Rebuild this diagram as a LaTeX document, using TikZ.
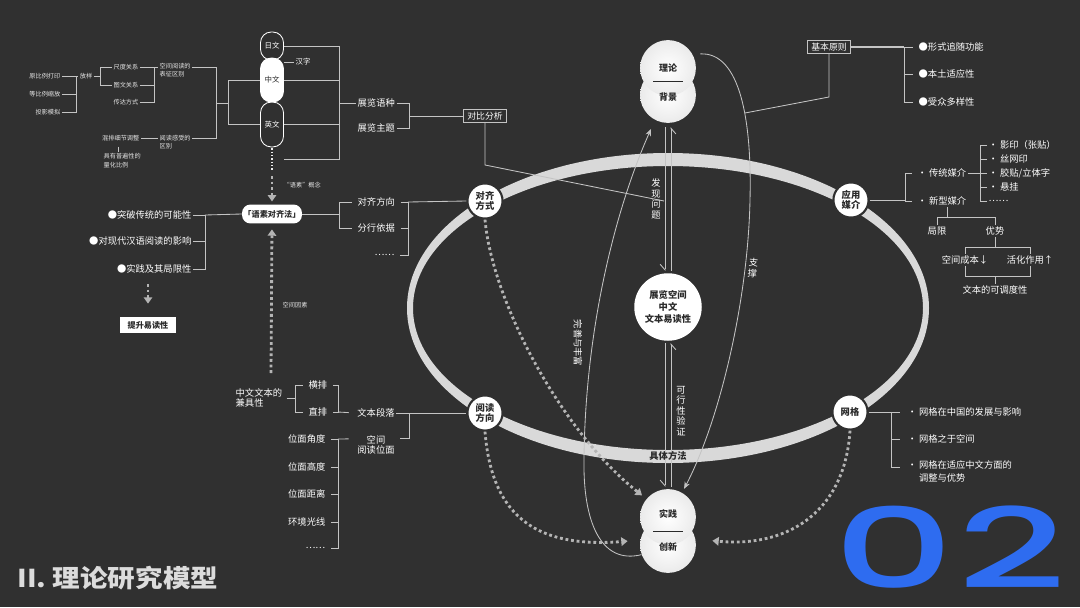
\documentclass[tikz,border=0pt]{standalone}
\usepackage{fontspec}
\setmainfont{Noto Sans CJK SC}
\newfontfamily\numfont{Poppins Medium}
\usepackage{tikz}
\usetikzlibrary{arrows.meta, positioning, calc}
\definecolor{bgGray}{HTML}{303030}
\definecolor{ringGray}{HTML}{D9D9D9}
\definecolor{lineGray}{HTML}{C4C4C4}
\definecolor{dotGray}{HTML}{B4B4B4}
\definecolor{numBlue}{HTML}{2E6CF0}
\definecolor{inkDark}{HTML}{2A2A2A}
\definecolor{titleGray}{HTML}{DCDCDC}
\newcommand{\labfont}{\fontsize{6.6}{7.4}\selectfont}
\newcommand{\minifont}{\fontsize{4.4}{5.8}\selectfont}

\begin{document}
\begin{tikzpicture}[x=0.025cm, y=-0.025cm,
    lbl/.style={text=white, font=\labfont, inner sep=1pt},
    tiny/.style={text=white!80!gray, font=\minifont, inner sep=1pt, align=left},
    ringnode/.style={circle, fill=white, draw=bgGray, line width=1.5pt, minimum size=25pt,
                     inner sep=0pt, align=center, text=inkDark, font=\labfont\bfseries},
    ball/.style={circle, minimum size=39.7pt, inner sep=0pt, inner color=white, outer color=white!84!gray},
    balltxt/.style={text=inkDark, font=\fontsize{6.4}{7}\selectfont\bfseries},
    pill/.style={draw=white, line width=0.6pt, rounded corners=7.5pt, minimum width=16.3pt,
                 inner sep=0pt, text=white, font=\fontsize{5.3}{6}\selectfont},
    tagbox/.style={lbl, draw=lineGray, line width=0.6pt, minimum width=31pt, minimum height=9.6pt,
                   inner sep=1pt, font=\fontsize{6.3}{7}\selectfont},
    ln/.style={draw=lineGray, line width=0.6pt},
    gap/.style={ln, shorten <=3pt, shorten >=3pt},
    dotarrow/.style={dotGray, line width=2pt, dash pattern=on 2pt off 2pt,
                     -{Triangle[length=4.5pt, width=6pt]}},
    fine dots/.style={white!85!gray, line width=1pt, dash pattern=on 1pt off 1.4pt},
    harp/.style={ln, -{Straight Barb[right, length=4pt, width=7pt]}},
    tip/.style={ln, -{Stealth[length=5pt, width=4pt]}}
]
    % background and ring
    \fill[bgGray] (0,0) rectangle (1080,607);
    \fill[ringGray, even odd rule] (668,308) ellipse [x radius=261, y radius=155]
                                   (668,308) ellipse [x radius=255, y radius=142];

    % core
    \node[circle, fill=white, minimum size=48pt, inner sep=0pt, align=center, text=inkDark,
          font=\fontsize{6.6}{8.6}\selectfont\bfseries] (hub) at (668,307) {展览空间\\中文\\文本易读性};
    \node[ball] (beijing) at (668,95) {};
    \node[ball] (lilun) at (668,68) {};
    \draw[inkDark, line width=0.6pt] ($(lilun)!.5!(beijing)+(-15,0)$) -- ++(30,0);
    \node[balltxt] at (lilun) {理论};
    \node[balltxt] at ($(beijing)+(0,2)$) {背景};
    \node[ball] (chuangxin) at (668,545) {};
    \node[ball] (shijian) at (668,517) {};
    \draw[inkDark, line width=0.6pt] ($(shijian)!.5!(chuangxin)+(-15,0)$) -- ++(30,0);
    \node[balltxt] at ($(shijian)+(0,-3)$) {实践};
    \node[balltxt] at ($(chuangxin)+(0,2)$) {创新};

    \node[ringnode] (duiqi)    at (485,201) {对齐\\方式};
    \node[ringnode] (yingyong) at (851,200) {应用\\媒介};
    \node[ringnode] (yuedu)    at (485,413) {阅读\\方向};
    \node[ringnode] (wangge)   at (850,412) {网格};

    % links through the core
    \draw[harp] ($(beijing.south)+(-3,4)$) -- ($(hub.north)+(-3,-2)$);
    \draw[harp] ($(hub.north)+(3,-2)$) -- ($(beijing.south)+(3,4)$);
    \draw[harp] ($(hub.south)+(-3,2)$) -- ($(shijian.north)+(-3,-2)$);
    \draw[harp] ($(shijian.north)+(3,-2)$) -- ($(hub.south)+(3,2)$);
    \node[lbl, align=center] (faxian) at (656,199) {发\\现\\问\\题};
    \node[lbl, align=center] (kexing) at (681,411) {可\\行\\性\\验\\证};
    \node[inkDark, font=\labfont\bfseries, inner sep=0pt] (juti) at (668,456) {具体方法};

    \coordinate (wsEnd) at (651,129);
    \draw[tip] (chuangxin.200) .. controls (600,565) and (583,520) .. (584,460)
               .. controls (585,330) and (615,210) .. (wsEnd);
    \node[lbl, rotate=-90] (wanshan) at (578,343) {完善与丰富};
    \draw[tip, shorten >=3pt] ($(lilun.30)+(8,0)$) .. controls (740,52) and (752,120) .. (750,200)
               .. controls (748,300) and (720,420) .. (shijian.60);
    \node[lbl, align=center, rotate=-6] (zhicheng) at (753,268) {支\\撑};

    \draw[dotarrow, shorten >=4pt] (duiqi.south) .. controls (492,300) and (560,430) .. (shijian.140);
    \draw[dotarrow, shorten >=9pt] (yuedu.south) .. controls (492,520) and (540,548) .. (chuangxin.170);
    \draw[dotarrow, shorten >=12pt] (wangge.south) .. controls (845,510) and (790,548) .. (chuangxin.12);

    % comparison
    \node[tagbox] (duibi) at (485,116) {对比分析};
    \coordinate (dbTurn) at (485,165);
    \coordinate (dbEnd) at (664,201);
    \draw[ln] (duibi.south) -- (dbTurn) -- (dbEnd);

    % language pills
    \node[pill, minimum height=19.9pt] (ri) at (272,46) {日文};
    \node[minimum width=16.3pt, minimum height=15pt, inner sep=0pt] (more) at (272,159) {};
    \draw[fine dots] (more.north) -- (more.south);
    \node[pill, minimum height=31.9pt] (ying) at (272,124.5) {英文};
    \node[pill, fill=white, text=inkDark, minimum height=31.2pt] (zhong) at (272,80) {中文};
    \node[lbl, font=\fontsize{5.3}{6}\selectfont] (hanzi) at (303,62) {汉字};
    \draw[ln] (zhong.east |- hanzi) -- (hanzi.west);

    \coordinate (sF) at (339,103);
    \draw[ln] (ri.east) -- (ri.east -| sF) -- (more.east -| sF) -- (more.east);
    \draw[ln] (zhong.east) -- (zhong.east -| sF);
    \draw[ln] (ying.east) -- (ying.east -| sF);
    \node[lbl, anchor=west] (yuzhong) at (356,103) {展览语种};
    \node[lbl, anchor=west] (zhuti) at (356,128) {展览主题};
    \draw[ln] (sF) -- (yuzhong.west);
    \coordinate (sG) at (409,116);
    \draw[ln] (yuzhong.east) -- (yuzhong.east -| sG) -- (zhuti.east -| sG) -- (zhuti.east);
    \draw[ln] (sG) -- (duibi.west);

    % far left notes
    \node[tiny, anchor=east] (yuanbi) at (62,76) {原比例打印};
    \node[tiny, anchor=east] (dengbi) at (62,94) {等比例缩放};
    \node[tiny, anchor=east] (touying) at (62,112) {投影模拟};
    \node[tiny] (fangyang) at (86,76) {放样};
    \node[tiny, anchor=east] (chidu) at (140,67) {尺度关系};
    \node[tiny, anchor=east] (tuwen) at (140,85) {图文关系};
    \node[tiny, anchor=east] (chuanda) at (140,102) {传达方式};
    \node[tiny, anchor=west] (biaozheng) at (158,70) {空间阅读的\\表征区别};
    \node[tiny, anchor=east] (hunpai) at (141,138) {混排细节调整};
    \node[tiny, anchor=west] (ganshou) at (158,142) {阅读感受的\\区别};
    \node[tiny, anchor=north west] (lianghua) at (102,152) {具有普遍性的\\量化比例};

    \coordinate (sA) at (76,0);
    \draw[ln] (yuanbi.east) -- (yuanbi.east -| sA) -- (touying.east -| sA) -- (touying.east);
    \draw[ln] (dengbi.east) -- (dengbi.east -| sA);
    \draw[ln] (yuanbi.east -| sA) -- (fangyang.west);
    \coordinate (sB) at (100,0);
    \draw[ln] (fangyang.east) -- (fangyang.east -| sB);
    \draw[ln] (chidu.west) -- (chidu.west -| sB) -- (tuwen.west -| sB) -- (tuwen.west);
    \coordinate (sC) at (154,0);
    \draw[ln] (chidu.east) -- (chidu.east -| sC) -- (chuanda.east -| sC) -- (chuanda.east);
    \draw[ln] (tuwen.east) -- (tuwen.east -| sC);
    \draw[ln] (chidu.east -| sC) -- (biaozheng.west |- chidu.east);
    \draw[ln] (hunpai.east) -- (ganshou.west |- hunpai.east);
    \draw[ln] ($(hunpai.south)+(-2,4)$) -- ++(0,5);
    \coordinate (sD) at (216,0);
    \draw[ln] (biaozheng.east |- chidu.east) -- (sD |- chidu.east) -- (sD |- hunpai.east)
              -- (ganshou.east |- hunpai.east);
    \coordinate (sE) at (228,103);
    \draw[ln] (sE -| sD) -- (sE);
    \draw[ln] (zhong.west) -- (zhong.west -| sE) -- (ying.west -| sE) -- (ying.west);

    % alignment method
    \node[rectangle, rounded corners=6pt, fill=white, text=inkDark, minimum width=40.4pt,
          minimum height=13.5pt, inner sep=1pt, font=\fontsize{5.8}{7}\selectfont\bfseries] (yusu) at (272,214) {「语素对齐法」};
    \coordinate (gnTop) at (272,176);
    \draw[dotarrow, shorten >=2pt] (gnTop) -- (yusu.north);
    \node[tiny, anchor=west] (gainian) at (282,185) {“语素”概念};
    \coordinate (ysBot) at (271,373);
    \draw[dotarrow, shorten >=4pt] (ysBot) -- (yusu.south);
    \node[tiny, anchor=west] (yinsu) at (281,305) {空间因素};

    \node[lbl, anchor=east] (tupo) at (193,215) {●突破传统的可能性};
    \node[lbl, anchor=east] (yingxiang) at (193,241) {●对现代汉语阅读的影响};
    \node[lbl, anchor=east] (jubian) at (193,269) {●实践及其局限性};
    \coordinate (sL) at (205,0);
    \draw[ln] (tupo.east) -- (tupo.east -| sL) -- (jubian.east -| sL) -- (jubian.east);
    \draw[ln] (yingxiang.east) -- (yingxiang.east -| sL);
    \draw[ln] (tupo.east -| sL) -- (yusu.west);
    \node[fill=white, text=inkDark, minimum width=39.7pt, minimum height=12pt, inner sep=1pt,
          font=\fontsize{5.8}{7}\selectfont\bfseries] (tisheng) at (148,325) {提升易读性};
    \coordinate (tsTop) at (148,284);
    \draw[dotarrow, shorten >=9pt] (tsTop) -- (tisheng.north);

    \node[lbl, anchor=west] (fangxiang) at (356,202) {对齐方向};
    \node[lbl, anchor=west] (fenhang) at (356,228) {分行依据};
    \node[lbl, anchor=west] (etcA) at (373,255) {……};
    \coordinate (sM) at (339,0);
    \coordinate (sN) at (408,0);
    \draw[ln] (yusu.east) -- (yusu.east -| sM);
    \draw[gap] (fangxiang.west) -- (fangxiang.west -| sM) -- (fenhang.west -| sM) -- (fenhang.west);
    \draw[gap] (fangxiang.east) -- (fangxiang.east -| sN) -- (etcA.east -| sN) -- (etcA.east);
    \draw[ln, shorten <=3pt] (fenhang.east) -- (fenhang.east -| sN);
    \draw[ln] (fangxiang.east -| sN) -- (duiqi.west);

    % reading direction
    \node[lbl, anchor=west, align=left] (jianju) at (234,398) {中文文本的\\兼具性};
    \node[lbl, anchor=west] (hengpai) at (307,385) {横排};
    \node[lbl, anchor=west] (zhipai) at (307,412) {直排};
    \coordinate (sO) at (295,0);
    \coordinate (sP) at (338,0);
    \draw[ln, shorten <=2pt] (jianju.east) -- (jianju.east -| sO);
    \draw[gap] (hengpai.west) -- (hengpai.west -| sO) -- (zhipai.west -| sO) -- (zhipai.west);
    \draw[gap] (hengpai.east) -- (hengpai.east -| sP) -- (zhipai.east -| sP) -- (zhipai.east);
    \node[lbl] (duanluo) at (376,413) {文本段落};
    \draw[ln, shorten >=5pt] (zhipai.east -| sP) -- (duanluo.west);
    \draw[ln] (duanluo.east) -- (yuedu.west);
    \node[lbl, align=center] (weimian) at (376,445) {空间\\阅读位面};
    \coordinate (wmR) at ($(weimian.north east)+(0,5)$);
    \coordinate (wmL) at ($(weimian.north west)+(0,5)$);
    \coordinate (sQ) at (409,0);
    \draw[ln, shorten >=3pt] (duanluo.east -| sQ) -- (wmR -| sQ) -- (wmR);
    \node[lbl, anchor=east] (jiaodu) at (327,439) {位面角度};
    \node[lbl, anchor=east] (gaodu) at (327,467) {位面高度};
    \node[lbl, anchor=east] (juli) at (327,494) {位面距离};
    \node[lbl, anchor=east] (guangxian) at (327,522) {环境光线};
    \node[lbl, anchor=east] (etcB) at (327,548) {……};
    \draw[gap] (jiaodu.east) -- (jiaodu.east -| sP) -- (etcB.east -| sP) -- (etcB.east);
    \draw[ln, shorten <=3pt] (gaodu.east) -- (gaodu.east -| sP);
    \draw[ln, shorten <=3pt] (juli.east) -- (juli.east -| sP);
    \draw[ln, shorten <=3pt] (guangxian.east) -- (guangxian.east -| sP);
    \draw[ln, shorten >=5pt] (jiaodu.east -| sP) -- (wmL);

    % principles
    \node[tagbox] (jiben) at (829,47) {基本原则};
    \coordinate (jbTurn) at (829,97);
    \coordinate (zcJoin) at (745,113);
    \draw[ln] (jiben.south) -- (jbTurn) -- (zcJoin);
    \node[lbl, anchor=west] (xingshi) at (917,47) {●形式追随功能};
    \node[lbl, anchor=west] (bentu) at (917,74) {●本土适应性};
    \node[lbl, anchor=west] (shouzhong) at (917,102) {●受众多样性};
    \coordinate (sH) at (904,0);
    \draw[ln, line width=1pt] (jiben.east) -- (jiben.east -| sH);
    \draw[ln, shorten >=3pt] (jiben.east -| sH) -- (xingshi.west);
    \draw[ln, shorten >=3pt] (xingshi.west -| sH) -- (shouzhong.west -| sH) -- (shouzhong.west);
    \draw[ln, shorten >=3pt] (bentu.west -| sH) -- (bentu.west);

    % media
    \node[lbl, anchor=west] (chuantong) at (916,173) {· 传统媒介};
    \node[lbl, anchor=west] (xinxing) at (916,201) {· 新型媒介};
    \coordinate (sI) at (905,0);
    \draw[ln] (yingyong.east) -- (yingyong.east -| sI);
    \draw[ln, shorten >=3pt] (chuantong.west -| sI) -- (xinxing.west -| sI) -- (xinxing.west);
    \draw[ln, shorten >=3pt] (chuantong.west -| sI) -- (chuantong.west);
    \node[lbl, anchor=west] (yingyin) at (987,145) {· 影印（张贴）};
    \node[lbl, anchor=west] (siwang) at (987,159) {· 丝网印};
    \node[lbl, anchor=west] (jiaotie) at (987,173) {· 胶贴/立体字};
    \node[lbl, anchor=west] (xuangua) at (987,187) {· 悬挂};
    \node[lbl, anchor=west] (etcC) at (987,201) {……};
    \coordinate (sJ) at (980,0);
    \draw[ln] (chuantong.east) -- (chuantong.east -| sJ);
    \draw[ln] (yingyin.west) -- (yingyin.west -| sJ) -- (etcC.west -| sJ) -- (etcC.west);
    \draw[ln] (siwang.west) -- (siwang.west -| sJ);
    \draw[ln] (jiaotie.west) -- (jiaotie.west -| sJ);
    \draw[ln] (xuangua.west) -- (xuangua.west -| sJ);

    \node[lbl] (juxian) at (937,231) {局限};
    \node[lbl] (youshi) at (995,231) {优势};
    \coordinate (xxFork) at (947,217);
    \draw[ln] (xxFork |- xinxing.south) -- (xxFork);
    \draw[ln] (juxian.north) -- (juxian.north |- xxFork) -- (youshi.north |- xxFork) -- (youshi.north);
    \node[lbl] (chengben) at (965,260) {空间成本↓};
    \node[lbl] (huohua) at (1030,260) {活化作用↑};
    \coordinate (ysFork) at (995,247);
    \draw[ln] (youshi.south) -- (ysFork);
    \draw[ln] (chengben.north) -- (chengben.north |- ysFork) -- (huohua.north |- ysFork) -- (huohua.north);
    \node[lbl] (tiaodu) at (995,290) {文本的可调度性};
    \coordinate (tdFork) at (995,276);
    \draw[ln] (chengben.south) -- (chengben.south |- tdFork) -- (huohua.south |- tdFork) -- (huohua.south);
    \draw[ln] (tdFork) -- (tiaodu.north);

    % grid
    \node[lbl, anchor=west] (wgA) at (906,412) {· 网格在中国的发展与影响};
    \node[lbl, anchor=west] (wgB) at (906,439) {· 网格之于空间};
    \node[lbl, anchor=north west, align=left, font=\fontsize{6.6}{9}\selectfont] (wgC) at (906,459) {· 网格在适应中文方面的\\\hphantom{· }调整与优势};
    \coordinate (wgCa) at ($(wgC.north west)+(0,8)$);
    \coordinate (sK) at (891,0);
    \draw[ln] (wangge.east) -- (wangge.east -| sK);
    \draw[ln, shorten >=4pt] (wgA.west -| sK) -- (wgA.west);
    \draw[ln, shorten >=4pt] (wgA.west -| sK) -- (wgCa -| sK) -- (wgCa);
    \draw[ln, shorten >=4pt] (wgB.west -| sK) -- (wgB.west);

    % title and number
    \node[anchor=west, text=titleGray, font=\fontsize{17.5}{20}\selectfont\bfseries,
          xscale=1.12, transform shape] (title) at (12,578) {II. 理论研究模型};
    \node[text=numBlue, font=\numfont\fontsize{79}{79}\selectfont, xscale=1.7,
          transform shape, inner sep=0pt] (num) at (950,547) {0\kern1pt 2};
\end{tikzpicture}
\end{document}
